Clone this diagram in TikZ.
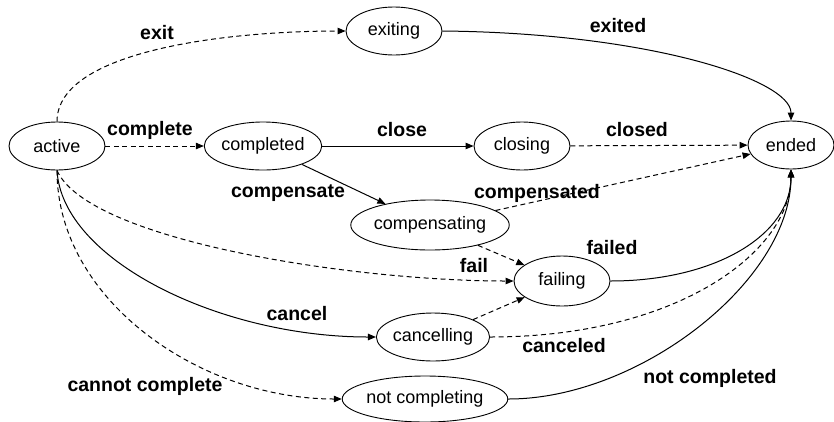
\documentclass[tikz,border=0pt]{standalone}
\usepackage{fontspec}
\setmainfont{Liberation Sans}
\usetikzlibrary{arrows.meta,shapes.geometric}
\begin{document}
\begin{tikzpicture}[x=1pt,y=-1pt,
  state/.style={ellipse,draw,line width=0.9pt,inner sep=0pt,
    minimum width=96pt,minimum height=48pt,font=\fontsize{18}{20}\selectfont},
  lbl/.style={font=\fontsize{19.5}{21}\selectfont\bfseries,inner sep=0pt},
  solidedge/.style={line width=1pt,-{Triangle[length=8pt,width=6.5pt]}},
  dashedge/.style={solidedge,dash pattern=on 5pt off 3.5pt}]
\useasboundingbox (0,0) rectangle (834,421);

% states
\node[state] (active)     at (57,146)  {active};
\node[state] (exiting)    at (394,31)  {exiting};
\node[state,minimum width=92pt] (completed) at (263,146) {completed};
\node[state] (closing)    at (522,146) {closing};
\node[state,minimum width=86pt] (ended) at (791,145) {ended};
\node[state,minimum width=136pt,minimum height=50pt] (compensating) at (430,225) {compensating};
\node[state,minimum height=50pt] (failing) at (562,281) {failing};
\node[state] (cancelling) at (433,337) {cancelling};
\node[state,minimum width=161pt,minimum height=46pt] (notcompleting) at (425,399) {not completing};

% transitions
\draw[dashedge] (active.north) .. controls (57,50) and (230,31) .. (exiting.west);
\draw[solidedge] (exiting.east) .. controls (650,33) and (791,80) .. (ended.north);
\draw[dashedge] (active) -- (completed);
\draw[solidedge] (completed) -- (closing);
\draw[dashedge] (closing) -- (ended);
\draw[solidedge] (completed) -- (compensating);
\draw[dashedge] (compensating) -- (ended);
\draw[dashedge] (compensating) -- (failing);
\draw[dashedge] (active.south) .. controls (88,240) and (350,281) .. (failing.west);
\draw[solidedge] (failing.east) .. controls (715,281) and (791,235) .. (ended.south);
\draw[solidedge] (active.south) .. controls (62,260) and (220,337) .. (cancelling.west);
\draw[dashedge] (cancelling) -- (failing);
\draw[dashedge] (cancelling.east) .. controls (680,337) and (791,250) .. (ended.south);
\draw[dashedge] (active.south) .. controls (57,300) and (200,399) .. (notcompleting.west);
\draw[solidedge] (notcompleting.east) .. controls (640,399) and (791,280) .. (ended.south);

% transition labels
\node[lbl] (lexit)        at (157,33)  {exit};
\node[lbl] (lexited)      at (618,26)  {exited};
\node[lbl] (lcomplete)    at (150,130) {complete};
\node[lbl] (lclose)       at (402,130) {close};
\node[lbl] (lclosed)      at (637,130) {closed};
\node[lbl] (lcompensate)  at (288,193) {compensate};
\node[lbl] (lcompensated) at (537,193) {compensated};
\node[lbl] (lfail)        at (474,266) {fail};
\node[lbl] (lfailed)      at (612,248) {failed};
\node[lbl] (lcancel)      at (297,314) {cancel};
\node[lbl] (lcanceled)    at (564,346) {canceled};
\node[lbl] (lcannot)      at (145,386) {cannot complete};
\node[lbl] (lnotcompleted) at (710,378) {not completed};
\end{tikzpicture}
\end{document}
